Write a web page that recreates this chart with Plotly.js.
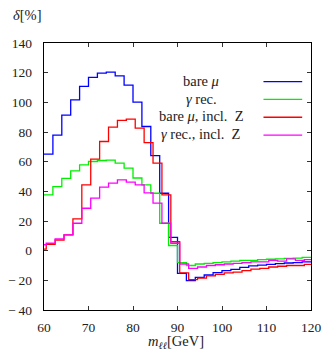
<!DOCTYPE html>
<html>
<head>
<meta charset="utf-8">
<script src="https://cdn.plot.ly/plotly-3.0.1.min.js"></script>
<style>html,body{margin:0;padding:0;background:#fff;}#chart{width:324px;height:354px;}</style>
</head>
<body>
<div id="chart"></div>
<script>
// Bin edges (GeV)
const edgesEven = [60,62,64,66,68,70,72,74,76,78,80,82,84,86,88,90,92,94,96,98,100,102,104,106,108,110,112,114,116,118,120];
const edgesOdd = [60,60.5,62.5,64.5,66.5,68.5,70.5,72.5,74.5,76.5,78.5,80.5,82.5,84.5,86.5,88.5,90.5,92.5,94.5,96.5,98.5,100.5,102.5,104.5,106.5,108.5,110.5,112.5,114.5,116.5,118.5,120];

// delta [%] per bin
const bareMu = [65.1,77.9,91.4,101.7,110.7,116.8,119.7,120.4,117.9,111.6,100.2,83.7,64.1,38.7,9,-15.3,-20.2,-18,-16.4,-14.8,-13.5,-12.6,-11.2,-10.3,-9.7,-9.2,-8.8,-8.3,-8,-7.5];
const gammaRec = [37.6,43.2,48.8,53.8,57.8,60.1,60.8,61,59,55.6,49,44.3,38.7,18.5,3.5,-8,-10,-9,-8.5,-8,-7.5,-7,-6.5,-6.5,-6,-5.8,-5.5,-5.2,-5,-4.5];
const bareMuZ = [1,4.3,7.2,10.6,21.4,44.3,61.7,73.6,83.3,87.8,88.7,82.6,72.9,59,37.6,6,-15,-19.5,-18.5,-17,-16,-15,-14.5,-13.5,-12.5,-12,-11,-10.5,-10,-10,-9.2];
const gammaRecZ = [4,5,7.9,10.6,18.5,28.6,35.4,42.8,45.5,47.7,46.2,44.3,39,32,18.5,5,-9,-12,-11,-10,-9.5,-9,-8.5,-8,-7.5,-7.5,-6.5,-7,-5.5,-6.5,-6];

const seriesNames = ["bare <i>μ</i>", "<i>γ</i> rec.", "bare <i>μ</i>, incl.\u00a0 Z", "<i>γ</i> rec., incl.\u00a0 Z"];
const seriesColors = ["#0000ff", "#00ee00", "#ff0000", "#ff00ff"];

const xTickVals = [60,70,80,90,100,110,120];
const yTickVals = [-40,-20,0,20,40,60,80,100,120,140];
const yTickText = ["\u2212\u200940","\u2212\u200920","0","20","40","60","80","100","120","140"];

function stepTrace(edges, vals, color) {
  return {
    x: edges,
    y: vals.concat([vals[vals.length-1]]),
    type: 'scatter', mode: 'lines',
    line: {shape: 'hv', color: color, width: 1.3},
    hoverinfo: 'skip', showlegend: false
  };
}

const data = [
  stepTrace(edgesEven, bareMu, seriesColors[0]),
  stepTrace(edgesEven, gammaRec, seriesColors[1]),
  stepTrace(edgesOdd, bareMuZ, seriesColors[2]),
  stepTrace(edgesOdd, gammaRecZ, seriesColors[3])
];

const fontFam = "Liberation Serif, Times New Roman, serif";
const legY = [0.858, 0.792, 0.725, 0.658];
const annotations = [];
const shapes = [];
for (let i = 0; i < seriesNames.length; i++) {
  annotations.push({xref:'paper', yref:'paper', x:0.589, y:legY[i], xanchor:'center', yanchor:'middle',
    text: seriesNames[i], showarrow:false, font:{family:fontFam, size:14.5, color:'#222'}});
  shapes.push({type:'line', xref:'paper', yref:'paper', x0:0.822, x1:0.967, y0:legY[i]-0.003, y1:legY[i]-0.003,
    line:{color:seriesColors[i], width:1.3}});
}
annotations.push({xref:'paper', yref:'paper', x:-0.062, y:1.106, xanchor:'center', yanchor:'middle',
  text:'<i>δ</i>[%]', showarrow:false, font:{family:fontFam, size:14.5, color:'#222'}});
annotations.push({xref:'paper', yref:'paper', x:0.495, y:-0.118, xanchor:'center', yanchor:'middle',
  text:'<i>m</i><sub><i>ℓℓ</i></sub>[GeV]', showarrow:false, font:{family:fontFam, size:14.5, color:'#222'}});

const axisCommon = {
  showgrid:false, zeroline:false, showline:true, linecolor:'#000', linewidth:1.3,
  mirror:'allticks', ticks:'inside', ticklen:4, tickwidth:1, tickcolor:'#333',
  tickfont:{family:fontFam, size:13.5, color:'#222'}, tickmode:'array'
};

const layout = {
  width:324, height:354,
  margin:{l:43.5, r:13, t:43.3, b:44},
  paper_bgcolor:'#fff', plot_bgcolor:'#fff',
  showlegend:false,
  xaxis: Object.assign({}, axisCommon, {range:[60,120], tickvals:xTickVals, ticktext:xTickVals.map(String), ticklabelstandoff:4}),
  yaxis: Object.assign({}, axisCommon, {range:[-40,140], tickvals:yTickVals, ticktext:yTickText, ticklabelstandoff:8}),
  annotations: annotations,
  shapes: shapes
};

Plotly.newPlot('chart', data, layout, {staticPlot:true, displayModeBar:false});
</script>
</body>
</html>
